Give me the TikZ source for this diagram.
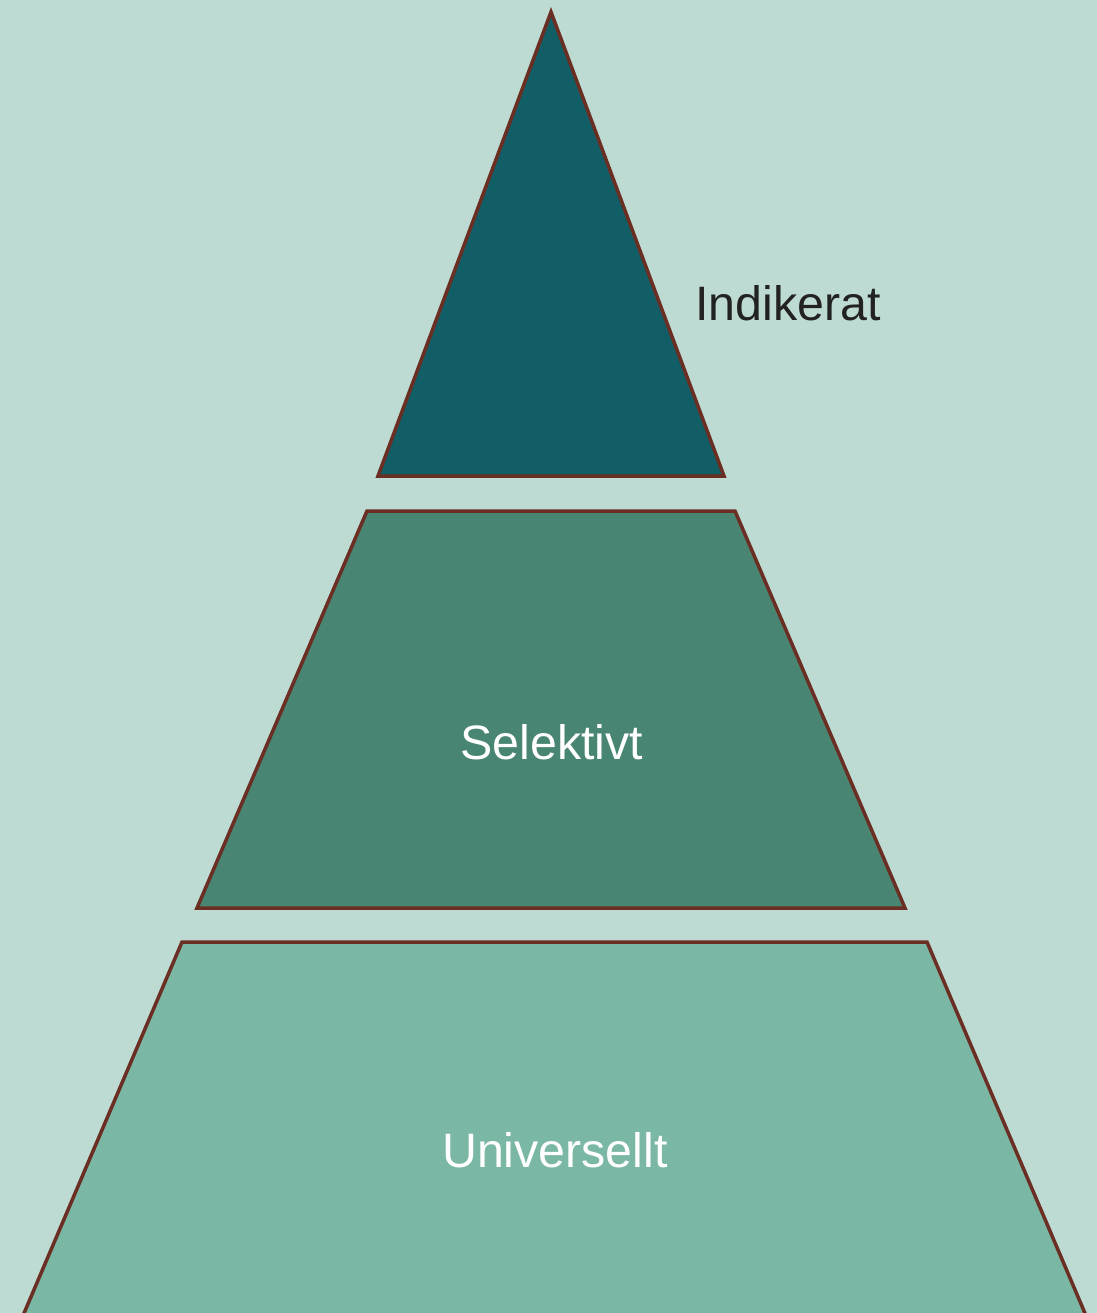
\documentclass[tikz,border=0pt]{standalone}
\usepackage{fontspec}
\setmainfont{Liberation Sans}
\usepackage{tikz}
\usetikzlibrary{positioning}

\definecolor{bgmint}{HTML}{BEDBD3}
\definecolor{topteal}{HTML}{125E66}
\definecolor{midgreen}{HTML}{498573}
\definecolor{lowgreen}{HTML}{7BB7A5}
\definecolor{edgebrown}{HTML}{6B2E22}
\definecolor{labeldark}{HTML}{222222}

\tikzset{
  layer/.style={draw=edgebrown, line width=2pt, line join=miter},
  lbl/.style={font=\fontsize{27.5}{30}\selectfont, inner sep=0pt}
}

\begin{document}
\begin{tikzpicture}[x=0.02cm,y=-0.02cm]
% background
\fill[bgmint] (0,0) rectangle (1097,1313);
\useasboundingbox (0,0) rectangle (1097,1313);
% bottom layer
\begin{scope}
\clip (0,0) rectangle (1097,1313);
\filldraw[layer, fill=lowgreen] (182,942) -- (927,942) -- (1090,1325) -- (19,1325) -- cycle;
\end{scope}
% middle layer
\filldraw[layer, fill=midgreen] (367,511) -- (735,511) -- (905,908) -- (197,908) -- cycle;
% top layer
\filldraw[layer, fill=topteal] (551,12) -- (724,476) -- (378,476) -- cycle;
% labels
\node[lbl, text=labeldark] (indikerat) at (788,303) {Indikerat};
\node[lbl, text=white] (selektivt) at (552,742) {Selektivt};
\node[lbl, text=white] (universellt) at (555,1150) {Universellt};
\end{tikzpicture}
\end{document}
